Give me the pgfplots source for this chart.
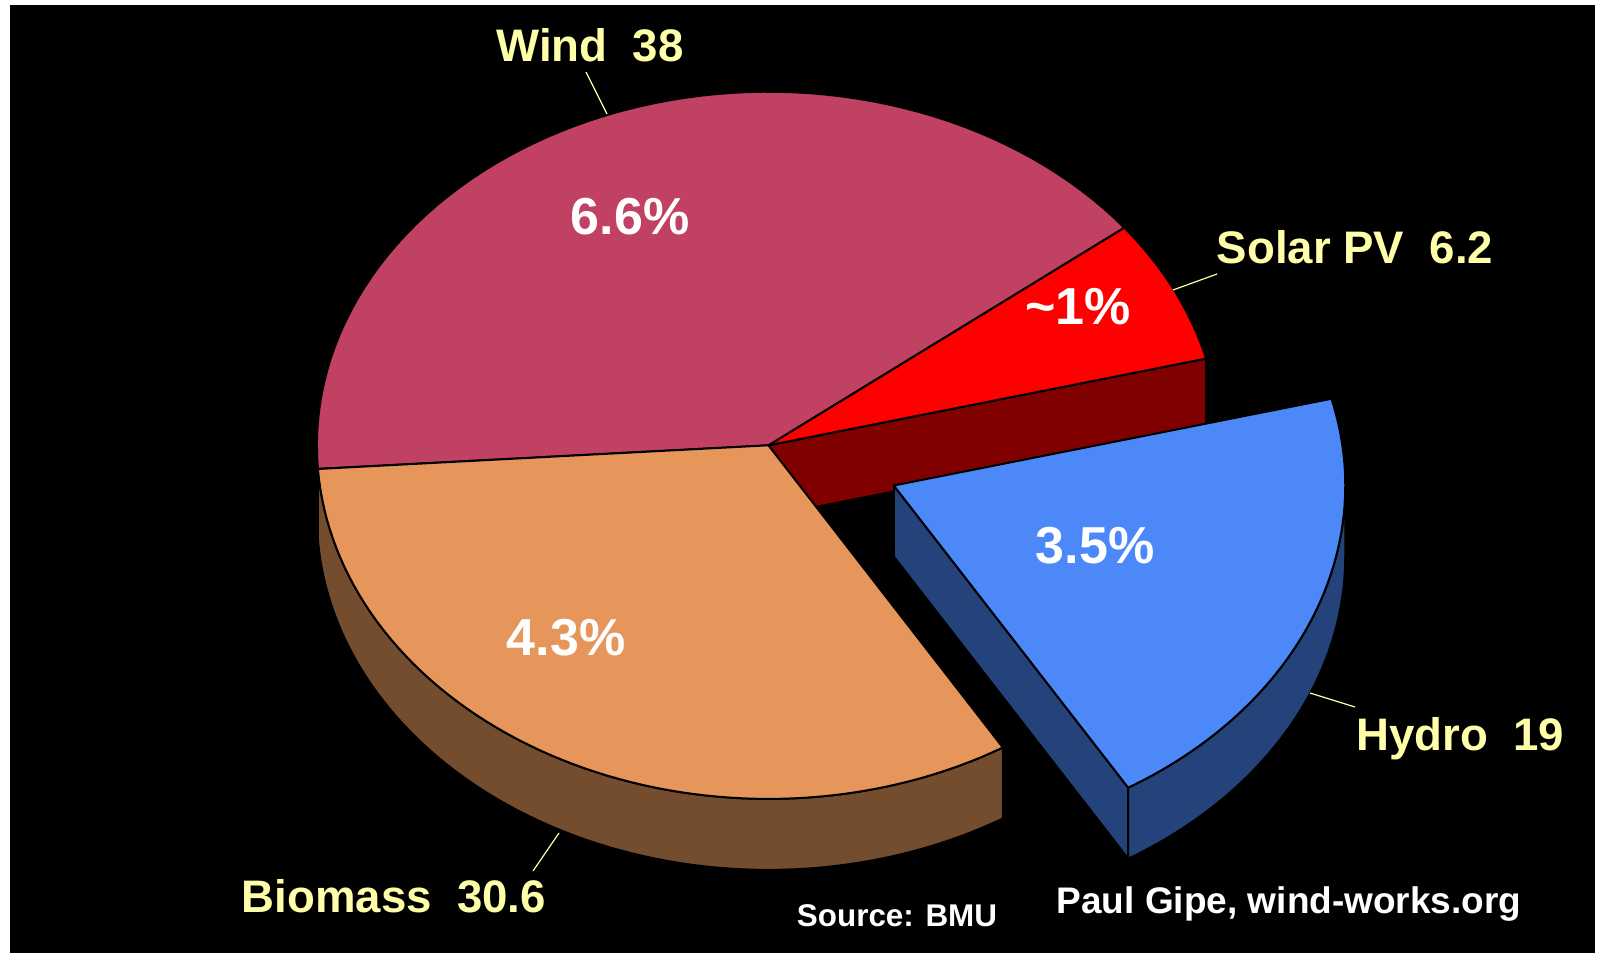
\documentclass[border=0pt]{standalone}
\usepackage{fontspec}
\setmainfont{Liberation Sans}
\usepackage{pgfplots}
\usepackage{pgfplotstable}
\pgfplotsset{compat=1.18}

\definecolor{windtop}{RGB}{192,65,98}
\definecolor{windside}{RGB}{110,36,56}
\definecolor{solartop}{RGB}{255,0,0}
\definecolor{solarside}{RGB}{128,0,0}
\definecolor{biotop}{RGB}{230,150,90}
\definecolor{bioside}{RGB}{116,76,46}
\definecolor{hydrotop}{RGB}{77,136,249}
\definecolor{hydroside}{RGB}{36,67,122}
\definecolor{lbl}{RGB}{255,255,170}

% source, value (TWh), share of electricity (%)
\pgfplotstableread{
source value share
Solar 6.2 1
Wind 38 6.6
Biomass 30.6 4.3
Hydro 19 3.5
}\pietable

\newcommand\arcpts[5]{% cx, cy, from, to, y shift
  \foreach \k in {0,...,72} { -- (axis cs:{#1+\RA*cos(#3+(#4-#3)*\k/72)},{#2+#5-\RB*sin(#3+(#4-#3)*\k/72)}) }}

\begin{document}
\begin{tikzpicture}
\pgfplotstablegetelem{0}{value}\of\pietable \let\vS\pgfplotsretval
\pgfplotstablegetelem{1}{value}\of\pietable \let\vW\pgfplotsretval
\pgfplotstablegetelem{2}{value}\of\pietable \let\vB\pgfplotsretval
\pgfplotstablegetelem{3}{value}\of\pietable \let\vH\pgfplotsretval
\pgfmathsetmacro\tot{\vS+\vW+\vB+\vH}
\pgfmathsetmacro\aA{14.2}
\pgfmathsetmacro\aB{\aA+360*\vS/\tot}
\pgfmathsetmacro\aC{\aB+360*\vW/\tot}
\pgfmathsetmacro\aD{\aC+360*\vB/\tot}
\pgfmathsetmacro\aE{\aA+360}
\def\CX{768.4}\def\CY{445.3}\def\RA{451.5}\def\RB{353.6}\def\DP{71}
\pgfmathsetmacro\aHm{(\aD+\aE)/2}
\pgfmathsetmacro\HX{\CX+0.30*\RA*cos(\aHm)}
\pgfmathsetmacro\HY{\CY-0.30*\RB*sin(\aHm)}
\begin{axis}[
  scale only axis, width=799pt, height=476.5pt,
  xmin=0, xmax=1598, ymin=0, ymax=953, y dir=reverse,
  hide axis, clip=false,
]
% background
\fill[white] (axis cs:0,0) rectangle (axis cs:1598,953);
\fill[black] (axis cs:10,5) rectangle (axis cs:1595,953);

\tikzset{edge/.style={draw=black, line width=1pt, line join=round}}
% solar radial face (visible because hydro is pulled out)
\filldraw[edge, fill=solarside]
  (axis cs:\CX,\CY) -- (axis cs:{\CX+\RA*cos(\aA)},{\CY-\RB*sin(\aA)})
  -- (axis cs:{\CX+\RA*cos(\aA)},{\CY+\DP-\RB*sin(\aA)}) -- (axis cs:\CX,{\CY+\DP}) -- cycle;
% outer sides
\filldraw[edge, fill=windside]
  (axis cs:{\CX+\RA*cos(180)},{\CY-\RB*sin(180)}) \arcpts{\CX}{\CY}{180}{\aC}{0} \arcpts{\CX}{\CY}{\aC}{180}{\DP} -- cycle;
\filldraw[edge, fill=bioside]
  (axis cs:{\CX+\RA*cos(\aC)},{\CY-\RB*sin(\aC)}) \arcpts{\CX}{\CY}{\aC}{\aD}{0} \arcpts{\CX}{\CY}{\aD}{\aC}{\DP} -- cycle;
% top faces
\filldraw[edge, fill=solartop] (axis cs:\CX,\CY) \arcpts{\CX}{\CY}{\aA}{\aB}{0} -- cycle;
\filldraw[edge, fill=windtop] (axis cs:\CX,\CY) \arcpts{\CX}{\CY}{\aB}{\aC}{0} -- cycle;
\filldraw[edge, fill=biotop] (axis cs:\CX,\CY) \arcpts{\CX}{\CY}{\aC}{\aD}{0} -- cycle;
% exploded hydro slice
\filldraw[edge, fill=hydroside]
  (axis cs:\HX,\HY) -- (axis cs:{\HX+\RA*cos(\aD)},{\HY-\RB*sin(\aD)})
  -- (axis cs:{\HX+\RA*cos(\aD)},{\HY+\DP-\RB*sin(\aD)}) -- (axis cs:\HX,{\HY+\DP}) -- cycle;
\filldraw[edge, fill=hydroside]
  (axis cs:{\HX+\RA*cos(\aD)},{\HY-\RB*sin(\aD)}) \arcpts{\HX}{\HY}{\aD}{360}{0} \arcpts{\HX}{\HY}{360}{\aD}{\DP} -- cycle;
\filldraw[edge, fill=hydrotop] (axis cs:\HX,\HY) \arcpts{\HX}{\HY}{\aD}{\aE}{0} -- cycle;

% leader lines
\draw[lbl, line width=0.6pt] (axis cs:586,72) -- (axis cs:607,114);
\draw[lbl, line width=0.6pt] (axis cs:1217,274) -- (axis cs:1173,290);
\draw[lbl, line width=0.6pt] (axis cs:1355,707) -- (axis cs:1310,693);
\draw[lbl, line width=0.6pt] (axis cs:559,833) -- (axis cs:533,871);

% category labels
\tikzset{cat/.style={anchor=base, inner sep=0pt, text=lbl, font=\fontsize{22.8}{27}\selectfont\bfseries},
         pct/.style={anchor=base, inner sep=0pt, text=white, font=\fontsize{26}{31}\selectfont\bfseries}}
\node[cat] at (axis cs:590,61) {Wind\ \ 38};
\node[cat] at (axis cs:1355,263) {Solar PV\ \ 6.2};
\node[cat] at (axis cs:1460,750) {Hydro\ \ 19};
\node[cat] at (axis cs:394,912) {Biomass\ \ 30.6};

% share labels
\node[pct] at (axis cs:630,234) {6.6\%};
\node[pct] at (axis cs:1078,324) {\textasciitilde1\%};
\node[pct] at (axis cs:1095,563) {3.5\%};
\node[pct] at (axis cs:566,655) {4.3\%};

% credits
\node[anchor=base, inner sep=0pt, text=white, font=\fontsize{15.7}{19}\selectfont\bfseries] at (axis cs:897,926) {Source: BMU};
\node[anchor=base, inner sep=0pt, text=white, font=\fontsize{18.5}{22}\selectfont\bfseries] at (axis cs:1289,913) {Paul Gipe, wind-works.org};
\end{axis}
\end{tikzpicture}
\end{document}
